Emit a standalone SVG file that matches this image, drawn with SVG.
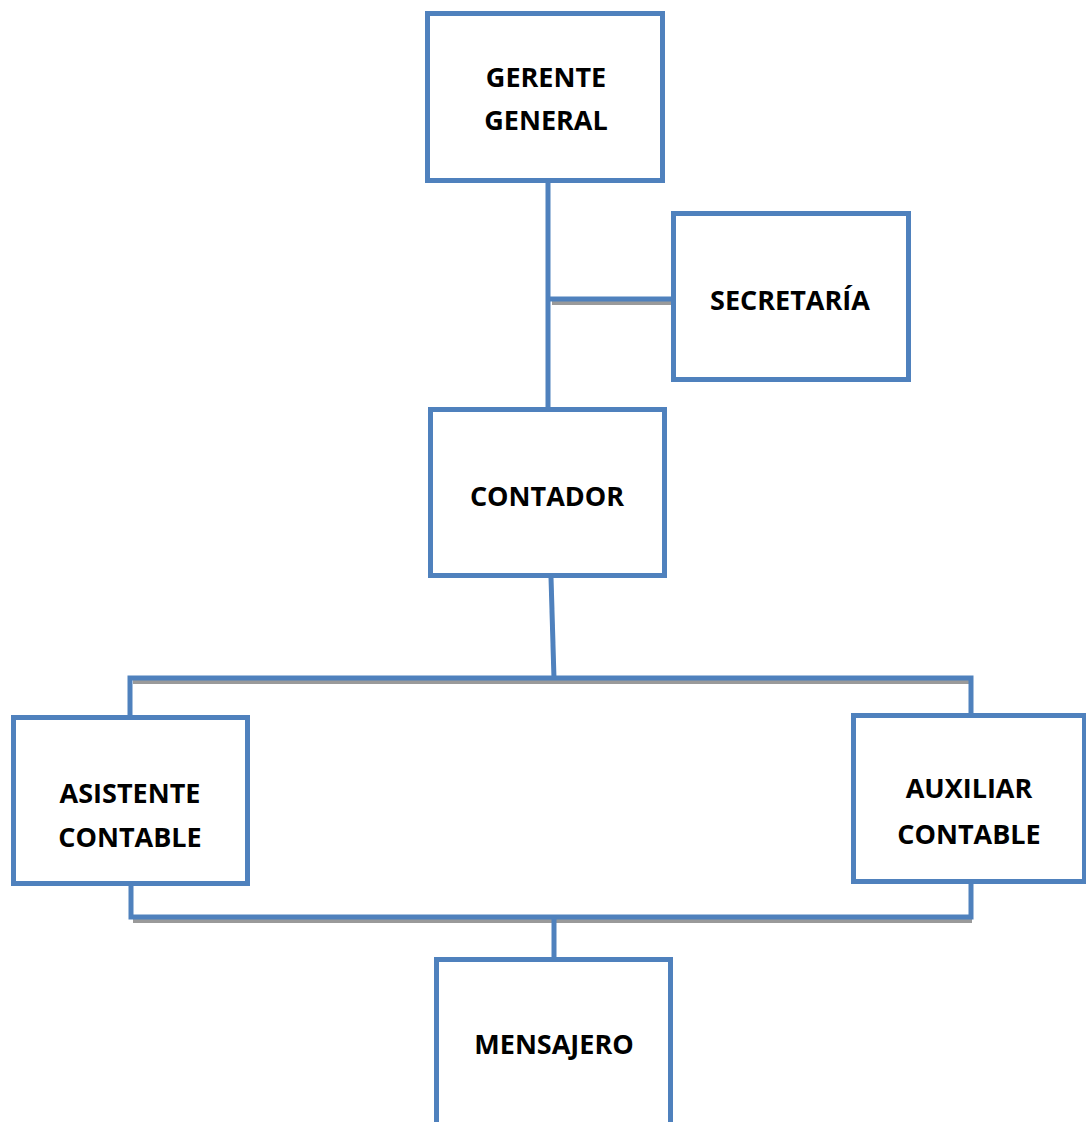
<svg xmlns="http://www.w3.org/2000/svg" width="1086" height="1122" viewBox="0 0 1086 1122">
<style>
.box{fill:#fff;stroke:#4F81BD;stroke-width:5}
.ln{stroke:#4F81BD;stroke-width:5;fill:none}
.sh{stroke:#9a9a9a;stroke-width:4;fill:none}
.t{font-family:"Open Sans","Liberation Sans",sans-serif;font-weight:bold;font-size:27px;fill:#000;text-anchor:middle}
</style>
<rect width="1086" height="1122" fill="#fff"/>
<g id="connectors">
<line class="sh" x1="552" y1="303" x2="672" y2="303"/>
<line class="ln" x1="548" y1="182" x2="548" y2="413"/>
<line class="ln" x1="548" y1="299" x2="673" y2="299"/>
<line class="ln" x1="551" y1="577" x2="554" y2="679"/>
<line class="sh" x1="133" y1="682" x2="970" y2="682"/>
<polyline class="ln" points="130,717 130,678 971,678 971,715"/>
<line class="sh" x1="133" y1="921" x2="972" y2="921"/>
<polyline class="ln" points="131,885 131,917 971,917 971,882"/>
<line class="ln" x1="554" y1="917" x2="554" y2="960"/>
</g>
<g id="gerente">
<rect class="box" x="427.5" y="13.5" width="235" height="167"/>
<text class="t" x="546" y="87">GERENTE</text>
<text class="t" x="546" y="130">GENERAL</text>
</g>
<g id="secretaria">
<rect class="box" x="673.5" y="213.5" width="235" height="166"/>
<text class="t" x="790" y="310">SECRETARÍA</text>
</g>
<g id="contador">
<rect class="box" x="430.5" y="409.5" width="234" height="166"/>
<text class="t" x="547" y="506">CONTADOR</text>
</g>
<g id="asistente">
<rect class="box" x="13.5" y="717.5" width="234" height="166"/>
<text class="t" x="130" y="803">ASISTENTE</text>
<text class="t" x="130" y="847">CONTABLE</text>
</g>
<g id="auxiliar">
<rect class="box" x="853.5" y="715.5" width="231" height="166"/>
<text class="t" x="969" y="798">AUXILIAR</text>
<text class="t" x="969" y="844">CONTABLE</text>
</g>
<g id="mensajero">
<rect class="box" x="436.5" y="959.5" width="234" height="200"/>
<text class="t" x="554" y="1054">MENSAJERO</text>
</g>
</svg>
